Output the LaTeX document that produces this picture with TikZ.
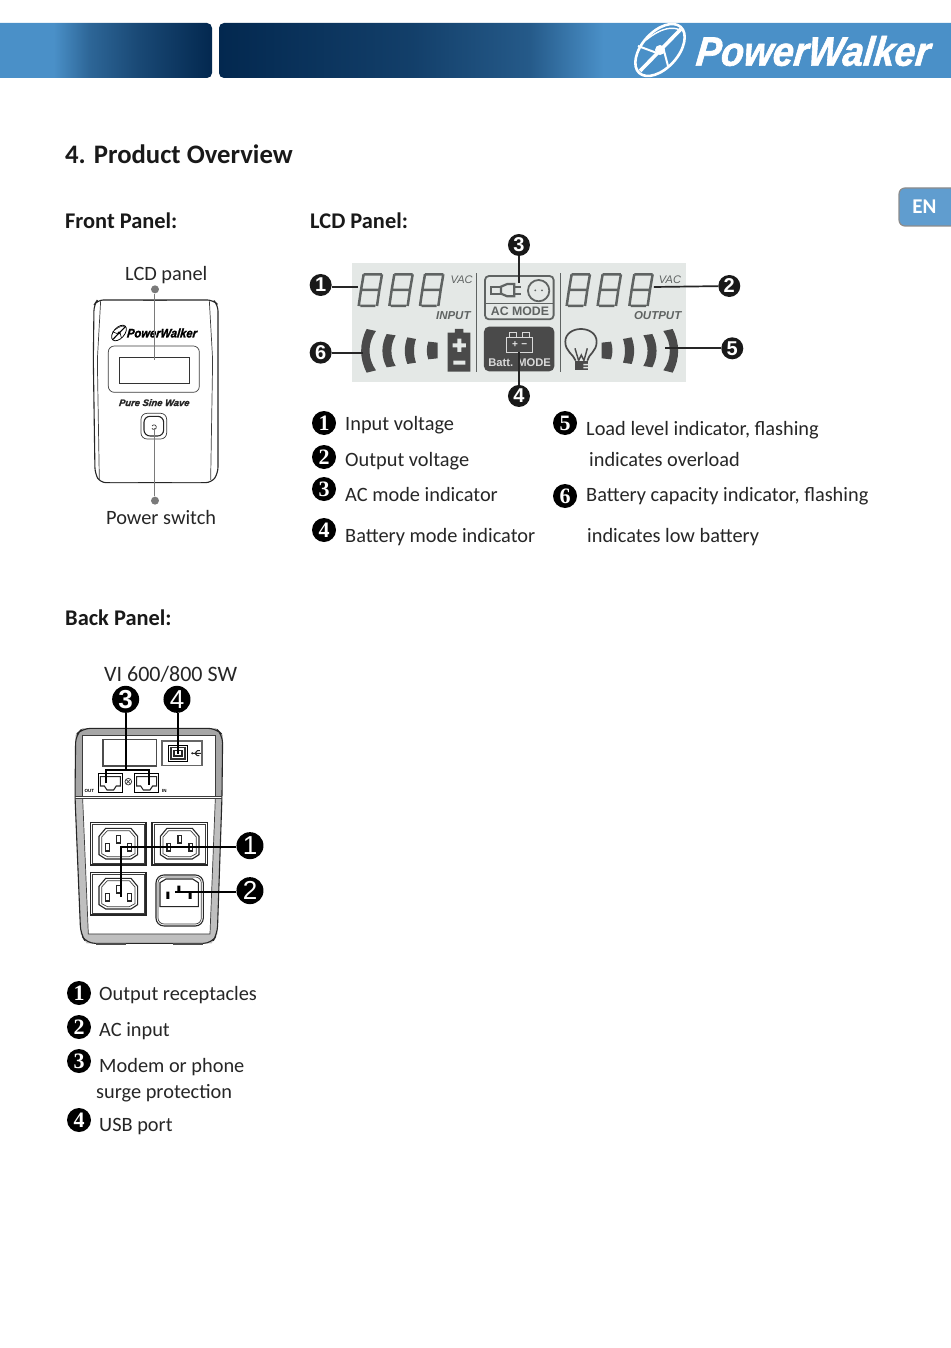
\documentclass[tikz,border=0pt]{standalone}
\usepackage{fontspec}
\setmainfont{Carlito}
\newfontfamily\lib{Liberation Sans}
\newfontfamily\badgefont{Liberation Serif}
\newfontfamily\badgesans{Liberation Sans}
\newfontfamily\logofont{Liberation Sans}[UprightFont=* Bold Italic,FakeBold=1.6,FakeSlant=0.12]
\usetikzlibrary{calc}
\definecolor{hblue}{HTML}{4A90C8}
\definecolor{hdark}{HTML}{03284F}
\definecolor{lcdbg}{HTML}{E4E8E6}
\definecolor{seg}{HTML}{5F6362}
\definecolor{lcddark}{HTML}{4A4A4A}
\definecolor{lineg}{HTML}{3C3C3C}
\definecolor{leadg}{HTML}{7A7A7A}
\pgfdeclarehorizontalshading{hleft}{100bp}{color(0bp)=(hblue); color(39bp)=(hblue); color(47bp)=(hblue!60!hdark); color(58bp)=(hblue!32!hdark); color(75bp)=(hdark); color(100bp)=(hdark)}
\pgfdeclarehorizontalshading{hright}{100bp}{color(0bp)=(hdark); color(25bp)=(hdark); color(38bp)=(hdark!78!hblue); color(46bp)=(hdark!52!hblue); color(51bp)=(hblue); color(100bp)=(hblue)}
\tikzset{
  lbl/.style={anchor=base west,inner sep=0pt,font=\fontsize{20.35}{24}\selectfont,text=black!85},
  head/.style={anchor=base west,inner sep=0pt,font=\bfseries\fontsize{22.4}{26}\selectfont,text=black!90},
  bul/.style={circle,fill=black,text=white,inner sep=0pt,minimum size=24pt,font=\badgefont\bfseries\fontsize{22}{22}\selectfont},
  bad/.style={circle,fill=black!90,text=white,inner sep=0pt,minimum size=22pt,font=\badgesans\bfseries\fontsize{20}{20}\selectfont},
  badb/.style={circle,fill=black,text=white,inner sep=0pt,minimum size=27pt,font=\badgesans\fontsize{26}{26}\selectfont},
  conn/.style={draw=black!85,line width=1.7pt},
  connb/.style={draw=black,line width=2pt},
  lead/.style={draw=leadg,line width=1pt},
  gdot/.style={circle,fill=leadg,inner sep=0pt,minimum size=8pt},
  lcdt/.style={inner sep=0pt,font=\lib\bfseries\fontsize{11}{12}\selectfont,text=seg},
  ln/.style={draw=lineg,line width=0.7pt},
  lnb/.style={draw=black!85,line width=1.1pt},
}
\newcommand\digitseg[2]{%
 \begin{scope}[shift={(#1,#2)}]
  \draw[seg,line width=2.5pt,line cap=butt,shorten <=1.6pt,shorten >=1.6pt]
    (15,0)--(70,0) (15,0)--(7,47) (70,0)--(62,47) (7,47)--(62,47) (7,47)--(0,95) (62,47)--(55,95) (0,95)--(55,95);
 \end{scope}}
\newcommand\pwicon[4]{% x y scale colour
 \begin{scope}[shift={(#1,#2)},x=#3pt,y=#3pt,rotate=0]
  \draw[#4,line width=#3*2.6pt,rotate=48] (0,0) ellipse (31 and 18);
  \draw[#4,line width=#3*1.4pt,rotate=48] (-2,17) .. controls (18,14) and (26,6) .. (28,-1);
  \draw[#4,line width=#3*3.6pt] (-20,-21) -- (21,21);
  \draw[#4,line width=#3*2pt] (-3,-3) -- (-22,4) (3,3) -- (8,-16);
  \fill[#4] (0,0) circle (5);
 \end{scope}}
\newcommand\outlet[2]{%
 \begin{scope}[shift={(#1,#2)}]
  \draw[lnb] (-83,-64) rectangle (83,64);
  \draw[ln] (-77,-58) rectangle (77,58);
  \draw[lnb] (-58,-22) -- (-38,-46) -- (38,-46) -- (58,-22) -- (58,33) -- (38,46) -- (-38,46) -- (-58,33) -- cycle;
  \draw[ln] (-50,-20) -- (-33,-39) -- (33,-39) -- (50,-20) -- (50,30) -- (33,39) -- (-33,39) -- (-50,30) -- cycle;
  \draw[lnb] (-38,0) rectangle (-27,22);
  \draw[lnb] (-5,-24) rectangle (6,-2);
  \draw[lnb] (28,0) rectangle (39,22);
 \end{scope}}
\newcommand\jack[1]{%
 \begin{scope}[shift={(#1,340)}]
  \draw[black,line width=1.4pt] (0,0) rectangle (72,58);
  \draw[lnb] (6,10) -- (6,38) -- (18,38) -- (26,50) -- (46,50) -- (54,38) -- (66,38) -- (66,10) -- cycle;
 \end{scope}}
\begin{document}
\begin{tikzpicture}[x=1pt,y=-1pt]
\useasboundingbox (0,0) rectangle (950,1348);
\fill[white] (0,0) rectangle (950,1348);
% header
\path[shading=hleft,rounded corners=5pt] (-8,23) -- (212,23) -- (212,78) -- (-8,78) -- cycle;
\path[shading=hright,rounded corners=5pt] (958,23) -- (219,23) -- (219,78) -- (958,78) -- cycle;
\pwicon{660}{50}{1}{white}
\node[inner sep=0pt,text=white,font=\logofont\fontsize{41}{42}\selectfont,xscale=0.91] (hlogo) at (812,51) {PowerWalker};
% EN tab
\path[fill=hblue!88!white,draw=black!45,line width=1.2pt,rounded corners=6pt] (958,188) -- (899,188) -- (899,226) -- (958,226);
\node[inner sep=0pt,text=white,font=\bfseries\fontsize{21}{24}\selectfont] (en) at (924.5,207) {EN};
% headings
\node[head,font=\bfseries\fontsize{26.7}{30}\selectfont] (h0) at (65,164) {4. Product Overview};
\node[head] (h1) at (65,229) {Front Panel:};
\node[head] (h2) at (310,229) {LCD Panel:};
\node[head] (h3) at (65,625) {Back Panel:};
% front panel
\node[lbl] (tlcd) at (125,280) {LCD panel};
\node[lbl] (tpow) at (106,524) {Power switch};
\begin{scope}[shift={(80,260)},x=0.3333pt,y=-0.3333pt]
 \draw[lnb,rounded corners=6pt] (52,120) -- (400,120) -- (414,135) -- (414,640) -- (395,668) -- (60,668) -- (45,640) -- (40,300) -- (42,135) -- cycle;
 \draw[ln,rounded corners=5pt] (62,122) -- (52,300) -- (58,660);
 \draw[ln,rounded corners=5pt] (388,122) -- (398,300) -- (392,660);
 \draw[ln] (190,122) -- (260,122);
 \draw[black!70,line width=1.2pt] (90,668) -- (175,668) (275,668) -- (362,668);
 \draw[ln,rounded corners=6pt] (85,258) rectangle (358,397);
 \draw[black!80,line width=0.9pt] (117,291) rectangle (329,370);
 \draw[ln,rounded corners=6pt] (183,460) rectangle (260,537);
 \draw[lnb,rounded corners=6pt] (192,469) rectangle (251,528);
 \draw[black!80,line width=0.7pt] (216,498) arc (-150:150:7);
 \pwicon{117}{219}{0.3}{black}
 \node[inner sep=0pt,font=\logofont\fontsize{12.4}{14}\selectfont,text=black,xscale=0.9] (flogo) at (245,219) {PowerWalker};
 \node[inner sep=0pt,font=\logofont\fontsize{9.4}{10}\selectfont,text=black!85] (psw) at (222,428) {Pure Sine Wave};
 \node[gdot] (fd1) at (225,88) {};
 \node[gdot] (fd2) at (225,722) {};
 \coordinate (fe1) at (225,300);
 \coordinate (fe2) at (225,503);
 \draw[lead] (fd1) -- (fe1);
 \draw[lead] (fd2) -- (fe2);
\end{scope}
% LCD panel
\begin{scope}[shift={(300,230)},x=0.3333pt,y=-0.3333pt]
 \fill[lcdbg] (157,100) rectangle (1158,455);
 \digitseg{176}{133}\digitseg{268}{133}\digitseg{360}{133}
 \digitseg{800}{133}\digitseg{893}{133}\digitseg{988}{133}
 \node[lcdt,font=\lib\itshape\fontsize{11}{12}\selectfont] (vac1) at (485,149) {VAC};
 \node[lcdt,font=\lib\itshape\fontsize{11}{12}\selectfont] (vac2) at (1110,149) {VAC};
 \node[lcdt,font=\lib\bfseries\itshape\fontsize{11.5}{12}\selectfont] (inp) at (460,257) {INPUT};
 \node[lcdt,font=\lib\bfseries\itshape\fontsize{11.5}{12}\selectfont] (outp) at (1073,257) {OUTPUT};
 \draw[seg,line width=1pt] (531,130) -- (531,425) (782,130) -- (782,425);
 % AC mode box
 \draw[seg,line width=1.8pt,rounded corners=4pt] (555,138) rectangle (761,268);
 \draw[seg,line width=0.8pt] (555,220) -- (761,220);
 \node[lcdt,font=\lib\bfseries\fontsize{12.3}{12}\selectfont,text=seg] (acm) at (660,245) {AC MODE};
 \draw[seg,line width=1.8pt] (603,170) rectangle (572,191);
 \draw[seg,line width=2.2pt,fill=lcdbg] (603,170) -- (622,162) -- (643,162) -- (643,199) -- (622,199) -- (603,191) -- cycle;
 \draw[seg,line width=2.2pt] (643,170) -- (664,170) (643,191) -- (664,191);
 \draw[seg,line width=1.8pt] (716,182) circle (32);
 \fill[seg] (706,181) circle (3) (726,181) circle (3);
 % Batt mode box
 \fill[lcddark,rounded corners=5pt] (552,290) rectangle (763,424);
 \draw[white!85!black,line width=1pt] (620,322) rectangle (698,367);
 \draw[white!85!black,line width=1pt] (628,322) -- (628,308) -- (650,308) -- (650,322) (668,322) -- (668,308) -- (690,308) -- (690,322);
 \node[inner sep=0pt,text=white!90!black,font=\lib\bfseries\fontsize{10}{10}\selectfont] (pm) at (659,344) {+\,\,−};
 \node[inner sep=0pt,text=white!85!black,font=\lib\bfseries\fontsize{11.2}{12}\selectfont] (btm) at (659,397) {Batt. MODE};
 % battery icon
 \fill[lcddark] (443,308) -- (465,308) -- (465,297) -- (490,297) -- (490,308) -- (511,308) -- (511,425) -- (443,425) -- cycle;
 \fill[lcdbg] (458,340) rectangle (498,352) (472,326) rectangle (484,366) (460,392) rectangle (496,404);
 % left bars
 \fill[lcddark] (200,297) -- (228,303) .. controls (202,340) and (202,385) .. (228,421) -- (200,428) .. controls (178,385) and (178,340) .. (200,297) -- cycle;
 \fill[lcddark] (260,312) -- (287,316) .. controls (270,345) and (270,380) .. (287,408) -- (260,412) .. controls (243,380) and (243,345) .. (260,312) -- cycle;
 \fill[lcddark] (322,322) -- (348,327) .. controls (340,350) and (340,375) .. (348,398) -- (322,402) .. controls (312,375) and (312,350) .. (322,322) -- cycle;
 \fill[lcddark] (385,335) -- (413,338) -- (413,385) -- (385,388) .. controls (379,370) and (379,353) .. (385,335) -- cycle;
 % right bars
 \fill[lcddark] (1118,297) -- (1090,303) .. controls (1116,340) and (1116,385) .. (1090,421) -- (1118,428) .. controls (1140,385) and (1140,340) .. (1118,297) -- cycle;
 \fill[lcddark] (1057,312) -- (1030,316) .. controls (1047,345) and (1047,380) .. (1030,408) -- (1057,412) .. controls (1074,380) and (1074,345) .. (1057,312) -- cycle;
 \fill[lcddark] (995,322) -- (969,327) .. controls (977,350) and (977,375) .. (969,398) -- (995,402) .. controls (1005,375) and (1005,350) .. (995,322) -- cycle;
 \fill[lcddark] (933,335) -- (905,338) -- (905,385) -- (933,388) .. controls (939,370) and (939,353) .. (933,335) -- cycle;
 % bulb
 \draw[lcddark,line width=1.7pt] (827,392) .. controls (820,372) and (796,365) .. (796,335) .. controls (796,310) and (820,297) .. (843,297) .. controls (866,297) and (890,310) .. (890,335) .. controls (890,365) and (866,372) .. (862,392);
 \draw[lcddark,line width=1.4pt] (836,392) -- (825,355) (852,392) -- (862,355) (836,392) -- (844,375) -- (852,392);
 \fill[lcddark] (825,393) rectangle (864,420);
 \fill[lcdbg] (850,402) rectangle (864,406) (850,411) rectangle (864,415);
 % badges
 \node[bad] (l1) at (62,165) {1};
 \node[bad] (l2) at (1288,168) {2};
 \node[bad] (l3) at (657,45) {3};
 \node[bad] (l4) at (657,498) {4};
 \node[bad] (l5) at (1297,355) {5};
 \node[bad] (l6) at (62,368) {6};
 \coordinate (e1) at (175,171);
 \coordinate (e2) at (1062,171);
 \coordinate (e3) at (657,160);
 \coordinate (e4) at (657,367);
 \coordinate (e5) at (1095,355);
 \coordinate (e6) at (190,368);
 \draw[conn] (l1.east|-e1) -- (e1);
 \draw[conn] (l2) -- (e2);
 \draw[conn] (l3) -- (e3);
 \draw[conn] (l4) -- (e4);
 \draw[conn] (l5) -- (e5);
 \draw[conn] (l6) -- (e6);
\end{scope}
% lists
\node[bul] (b1) at (324,423) {1};
\node[bul] (b2) at (324,457) {2};
\node[bul] (b3) at (324,489) {3};
\node[bul] (b4) at (324,530) {4};
\node[bul] (b5) at (565,423) {5};
\node[bul] (b6) at (565,496) {6};
\node[lbl] (t1) at (345,430) {Input voltage};
\node[lbl] (t2) at (345,466) {Output voltage};
\node[lbl] (t3) at (345,501) {AC mode indicator};
\node[lbl] (t4) at (345,542) {Battery mode indicator};
\node[lbl] (t5) at (586,435) {Load level indicator, flashing};
\node[lbl] (t5b) at (589,466) {indicates overload};
\node[lbl] (t6) at (586,501) {Battery capacity indicator, flashing};
\node[lbl] (t6b) at (587,542) {indicates low battery};
% back panel
\node[lbl,font=\fontsize{22}{26}\selectfont] (vi) at (104,681) {VI 600/800 SW};
\begin{scope}[shift={(60,660)},x=0.3333pt,y=-0.3333pt]
 \fill[black!35] (47,225) -- (68,205) -- (468,205) -- (488,225) -- (486,410) -- (466,410) -- (466,225) -- (68,225) -- (68,410) -- (45,410) -- cycle;
 \fill[black!25] (45,416) -- (68,416) -- (85,822) -- (450,822) -- (466,416) -- (486,416) -- (472,822) -- (455,850) -- (80,850) -- (62,822) -- cycle;
 \draw[lnb,rounded corners=8pt] (68,205) -- (468,205) -- (488,225) -- (486,410) -- (472,822) -- (455,850) -- (80,850) -- (62,822) -- (45,410) -- (47,225) -- cycle;
 \draw[ln] (45,410) -- (486,410) (45,416) -- (486,416);
 \draw[ln] (68,225) -- (466,225);
 \draw[ln] (68,225) -- (68,410) (466,225) -- (466,410);
 \draw[ln] (68,416) -- (85,822) -- (450,822) -- (466,416);
 \draw[black!70,line width=1.1pt] (108,852) -- (198,852) (338,852) -- (428,852);
 \draw[black!70,line width=1.4pt] (129,238) rectangle (290,318);
 \draw[black!60,line width=1.4pt] (306,243) rectangle (426,316);
 \draw[black,line width=1.4pt] (326,256) rectangle (382,304);
 \draw[black!80,line width=1.1pt] (333,263) rectangle (375,297);
 \fill[black!85] (340,270) rectangle (368,290);
 \fill[white] (344,274) rectangle (364,285);
 \draw[black!85,line width=1pt] (397,280) -- (423,280) (405,280) -- (412,272) -- (420,272) (405,280) -- (412,287) -- (418,287);
 \fill[black!85] (397,280) circle (3.5);
 \jack{115}\jack{224}
 \draw[ln] (205,365) circle (10);
 \draw[ln] (198,358) -- (212,372) (198,372) -- (212,358);
 \node[inner sep=0pt,font=\lib\bfseries\fontsize{4.5}{5}\selectfont] (tout) at (88,392) {OUT};
 \node[inner sep=0pt,font=\lib\bfseries\fontsize{4.5}{5}\selectfont] (tin) at (313,392) {IN};
 \outlet{175}{551}\outlet{359}{551}\outlet{175}{701}
 % inlet
 \draw[lnb,rounded corners=8pt] (288,645) rectangle (430,798);
 \draw[ln,rounded corners=6pt] (294,651) rectangle (424,792);
 \draw[lnb] (300,668) -- (318,657) -- (398,657) -- (415,668) -- (415,740) -- (300,740) -- cycle;
 \fill[black] (319,695) rectangle (328,717) (352,677) rectangle (361,697) (386,695) rectangle (395,717);
 % badges
 \node[badb,font=\badgesans\bfseries\fontsize{26}{26}\selectfont] (k3) at (197,118) {3};
 \node[badb] (k4) at (351,118) {4};
 \node[badb] (k1) at (570,557) {1};
 \node[badb] (k2) at (570,692) {2};
 \coordinate (j3a) at (137,370);
 \coordinate (j3b) at (268,375);
 \coordinate (j4) at (355,282);
 \coordinate (j1) at (182,710);
 \coordinate (j2) at (345,697);
 \draw[connb] (k3) -- (k3|-0,330);
 \draw[connb] (j3a) -- (137,330) -- (268,330) -- (j3b);
 \draw[connb] (k4.south-|j4) -- (j4);
 \draw[connb] (k1.west|-0,562) -- (182,562) -- (j1);
 \draw[connb] (k2.west|-j2) -- (j2);
\end{scope}
\node[bul] (c1) at (79,993) {1};
\node[bul] (c2) at (79,1027) {2};
\node[bul] (c3) at (79,1061) {3};
\node[bul] (c4) at (79,1120) {4};
\node[lbl] (d1) at (99,1000) {Output receptacles};
\node[lbl] (d2) at (99,1036) {AC input};
\node[lbl] (d3) at (99,1072) {Modem or phone};
\node[lbl] (d3b) at (96,1098) {surge protection};
\node[lbl] (d4) at (99,1131) {USB port};
\end{tikzpicture}
\end{document}
